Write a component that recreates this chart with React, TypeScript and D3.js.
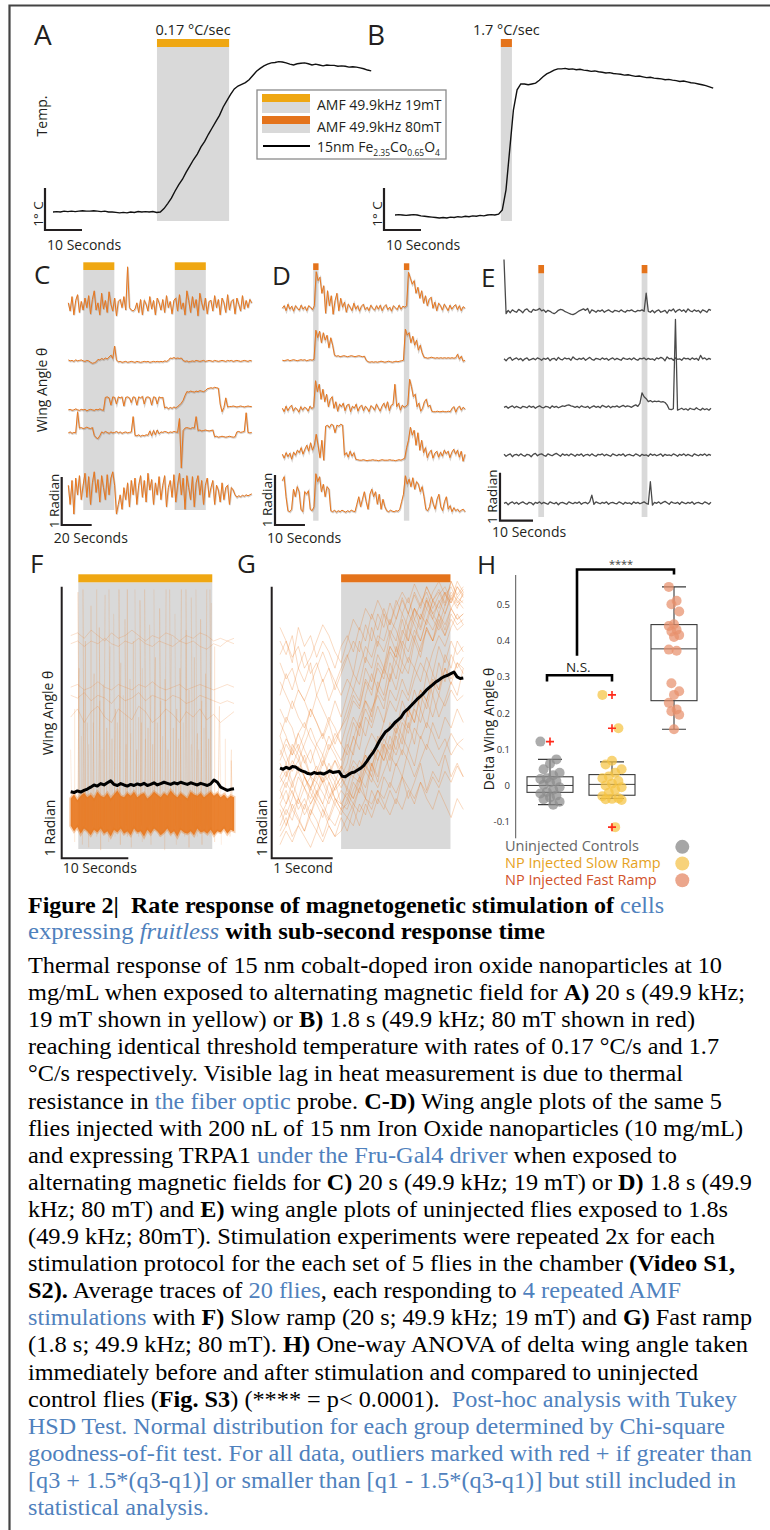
import React from "react";
import * as d3 from "d3";

// ---------- A / B : probe temperature, °C above start, one sample per second
const tempSlow = [0, 0.01, 0, 0.02, 0.01, 0.02, 0.01, 0.02, 0.03, 0.02, 0.02, 0.03, 0.02, 0.01, 0.02, 0, 0, -0.01, -0.02, -0.01, -0.02, 0, -0.01, 0.01, 0, 0.01, 0, 0.01, -0.01,
  0, 0.08, 0.2, 0.33, 0.5, 0.65, 0.78, 0.95, 1.1, 1.25, 1.38, 1.55, 1.68, 1.85, 2.0, 2.15, 2.3, 2.5, 2.65, 2.8, 2.93, 3.0, 3.04, 3.08, 3.15, 3.25, 3.35, 3.42, 3.48, 3.52,
  3.55, 3.56, 3.58, 3.57, 3.55, 3.52, 3.5, 3.53, 3.54, 3.55, 3.53, 3.5, 3.52, 3.5, 3.48, 3.5, 3.49, 3.49, 3.47, 3.48, 3.47, 3.45, 3.46, 3.45, 3.43, 3.41, 3.38, 3.36];
const tempFast = [0, 0.01, 0, -0.01, 0, 0.01, 0, -0.02, -0.03, -0.04, -0.05, -0.06, -0.07, -0.06, -0.07, -0.05, -0.06, -0.04, -0.05, -0.03, -0.04, -0.02, -0.03, -0.01, -0.02, 0, 0.01, 0, 0.02,
  0.12, 0.6, 1.55, 2.5, 2.98, 3.12, 3.12, 3.1, 3.12, 3.14, 3.21, 3.29, 3.36, 3.4, 3.45, 3.48, 3.48, 3.49, 3.47, 3.48, 3.46, 3.47, 3.45, 3.44, 3.42, 3.43, 3.41, 3.4, 3.38, 3.39,
  3.37, 3.36, 3.35, 3.33, 3.34, 3.32, 3.3, 3.31, 3.29, 3.27, 3.28, 3.26, 3.25, 3.24, 3.22, 3.23, 3.21, 3.2, 3.18, 3.19, 3.17, 3.15, 3.14, 3.12, 3.1, 3.08, 3.05, 3.02];

// ---------- C : slow ramp, 5 flies (radians around each fly's baseline)
const c1 = [0.05, -0.12, 0.18, -0.2, 0.1, 0.22, -0.15, 0.08, -0.1, 0.15, -0.05, 0.2, -0.18, 0.12, 0.3, -0.1, 0.05, -0.2, 0.25, -0.08, 0.1, -0.15, 0.28, 0.02, -0.12, 0.15, -0.22, 0.08, 0.12, -0.05, 0.18, -0.1, 0.8, -0.05, -0.1, -0.12, -0.08, 0.05, -0.15, 0.12, -0.2, 0.1, 0.02, -0.12, 0.18, -0.08, 0.1, -0.2, 0.15, 0.05, -0.1, 0.12, -0.15, 0.2, -0.05, 0.08, -0.18, 0.1, 0.15, -0.12, 0.22, -0.08, 0.05, -0.2, 0.3, 0.1, -0.15, 0.18, -0.05, 0.12, -0.22, 0.25, 0.05, -0.1, 0.15, -0.18, 0.08, 0.1, -0.12, 0.2, -0.05, 0.12, -0.2, 0.15, 0.05, -0.15, 0.22, -0.1, 0.08, 0.12, -0.18, 0.15, 0.02, -0.12, 0.2, -0.08, 0.1, -0.05, 0.12, 0.05];
const c2 = [0.02, 0, 0.01, -0.01, 0.02, 0, 0.01, 0.02, 0, -0.01, 0.01, 0, -0.03, -0.05, -0.04, -0.02, 0.03, 0.02, 0.05, 0.03, 0.06, 0.04, 0.08, 0.12, 0.05, 0.31, 0.02, -0.02, -0.01, -0.03, -0.02, -0.01, -0.03, -0.02, -0.01, -0.02, -0.03, -0.01, -0.02, -0.03, -0.02, -0.01, -0.02, -0.01, -0.03, -0.02, -0.01, -0.02, -0.01, -0.02, -0.01, -0.02, 0, -0.01, 0.01, 0.06, 0.05, 0.07, 0.05, 0.06, 0.05, 0.06, 0.01, -0.01, 0, -0.02, -0.01, 0, -0.01, 0.01, 0, -0.01, 0, 0.01, -0.01, 0, 0.01, 0, -0.01, 0.01, 0, -0.01, 0, 0.01, 0, -0.01, 0.01, 0, 0.01, -0.01, 0, 0.01, 0, -0.01, 0, 0.01, 0, -0.01, 0.01, 0];
const c3 = [0, 0.01, -0.01, 0, 0.02, 0, -0.01, 0.01, 0, 0.01, -0.02, 0, 0.01, 0, -0.01, 0.01, 0, 0.02, 0, -0.01,
  0.26, 0.27, 0.25, 0.1, 0.27, 0.26, 0.12, 0.27, 0.25, 0.27, 0.08, 0.26, 0.27, 0.25, 0.15, 0.27, 0.26, 0.1, 0.27, 0.25, 0.28, 0.12, 0.26, 0.27, 0.25, 0.1, 0.27, 0.26, 0.12, 0.27, 0.25, 0.26,
  0.04, 0.06, 0.02, 0.05, 0.03, 0.06, 0.04, 0.07, 0.1, 0.14, 0.2, 0.3, 0.38, 0.37, 0.39, 0.38, 0.37, 0.39, 0.38, 0.4, 0.39, 0.38, 0.4, 0.44, 0.45, 0.46, 0.45, 0.47, 0.46, 0.45,
  0.12, -0.04, 0.05, 0.25, 0.06, 0.07, 0.07, 0.08, 0.07, 0.06, 0.07, 0.08, 0.07, 0.06, 0.07, 0.08, 0.07, 0.07];
const c4 = [0, 0.02, -0.01, 0.01, 0, 0.44, 0.1, 0.11, 0.09, 0.1, 0.12, 0.1, 0.09, 0.11, -0.05, -0.1, -0.12, -0.06,
  0.02, 0, 0.03, 0.01, -0.01, 0.02, 0, 0.01, 0.03, 0, 0.02, -0.01, 0.01, 0.02, 0, 0.01, 0.02, 0.34,
  -0.05, -0.06, -0.04, -0.07, -0.05, -0.06, -0.04, -0.05, 0.04, -0.06, 0.05, -0.04, 0.06, -0.02,
  0.02, 0.01, 0.03, 0.02, 0, 0.02, 0.01, 0.03, 0.02, 0.01, 0.3, -0.73, 0.05, 0.1, 0.11, 0.1, 0.09, 0.11, 0.1, 0.34,
  0.05, 0.06, 0.04, 0.05, 0.06, 0.05, 0.04, 0.05, 0.06, -0.08, -0.07, -0.09, -0.08, -0.07, -0.08, -0.09, -0.08, -0.07, -0.08, -0.09, -0.08,
  0.02, 0.03, 0.01, 0.02, 0.03, 0.42, 0.01, 0, 0.01];
const c5 = [0.1, -0.3, 0.2, -0.5, 0.25, -0.1, 0.3, -0.2, 0.1, 0.35, -0.15, 0.28, -0.3, 0.15, 0.38, -0.05, 0.22, -0.25, 0.3, 0.05, -0.2, 0.32, -0.1, 0.25, 0.38, 0.1,
  -0.5, -0.3, -0.1, -0.4, 0.05, -0.2, 0.15, -0.35, 0.2, -0.1, 0.25, -0.3, 0.1, 0.3, -0.15, 0.2, -0.25, 0.35, 0, 0.22, -0.3, 0.15, -0.1, 0.28, -0.2, 0.1, 0.3, -0.35, 0.05, 0.2, -0.15, 0.32, -0.25, 0.1,
  0.35, -0.1, 0.25, -0.4, 0.3, 0.05, -0.2, 0.28, -0.35, 0.15, 0.3, -0.1, 0.2, -0.3, 0.1, 0.25, -0.15, 0.05, 0.2, -0.3, 0.1, 0, -0.25, 0.15, -0.2, 0.05, 0.1, -0.3, 0.05, 0,
  -0.1, -0.15, -0.12, -0.14, -0.11, -0.13, -0.1, -0.12, -0.1, -0.08];
const slowTraces = [c1, c2, c3, c4, c5];
const slowOffsets = [3.85, 2.69, 1.67, 1.19, 0];

// ---------- D : fast ramp, same 5 flies
const d1 = [0, 0.05, -0.05, 0.08, -0.02, 0.04, -0.06, 0.05, 0, -0.04, 0.06, -0.02, 0.03, -0.05, 0.05, 0.02, -0.03, 0.05,
  0.73, 0.55, 0.62, 0.3, 0.45, -0.1, 0.35, 0.05, 0.25, -0.12, 0.15, 0.3, -0.05, 0.2, 0.02, 0.12, -0.08, 0.08, 0.02, -0.05, 0.1, -0.02, 0.05, -0.06, 0.04, 0.08, -0.03, 0.02, -0.05, 0.06, 0, -0.04, 0.05, -0.02, 0.06, -0.05, 0.03, 0.07, -0.03, 0.02, -0.06, 0.05, 0.01, -0.03, 0.06, -0.02, 0.04, 0.02, 0.05,
  0.72, 0.6, 0.48, 0.55, 0.3, 0.42, 0.2, 0.35, 0.1, 0.25, 0.05, 0.18, 0.22, 0, 0.12, -0.05, 0.1, 0.05, -0.04, 0.08, 0.02, -0.05, 0.06, -0.02, 0.04, 0.07, -0.03, 0.05, -0.05, 0.03, 0];
const d2 = [0, -0.01, 0, 0.01, -0.01, 0, 0.01, 0, -0.01, 0, 0.01, 0, 0.01, -0.01, 0, 0.01, 0, 0.02,
  0.6, 0.45, 0.58, 0.35, 0.55, 0.4, 0.5, 0.25, 0.45, 0.3,
  0.1, 0.08, 0.09, 0.07, 0.08, 0.09, 0.08, 0.07, 0.08, 0.09, 0.08, 0.07, 0.08, 0.09, 0.08, 0.07, 0.08,
  0, -0.03, -0.04, -0.03, -0.04, -0.03, -0.04, -0.03, -0.02, -0.03, -0.04, -0.03, -0.02, -0.03, -0.04, -0.03, -0.02, -0.03, -0.02, -0.01, 0,
  0.62, 0.5, 0.55, 0.35, 0.48, 0.3, 0.4, 0.2, 0.3, 0.15,
  0.06, 0.05, 0.04, 0.05, 0.06, 0.05, 0.04, 0.05, 0.04, 0.05, 0.04, 0.05, 0.04, 0.05, 0.04, 0.05, 0.04, 0.05, 0.12, 0.02, 0.08, -0.02, 0];
const d3v = [0.02, -0.05, 0.06, -0.03, 0.04, 0.08, -0.04, 0.03, 0, -0.06, 0.05, -0.02, 0.04, 0.02, -0.04, 0.06, 0.01, 0.05,
  0.57, 0.35, 0.5, 0.2, 0.4, 0.15, 0.3, 0.05, 0.2, 0.25, 0.02, 0.15, -0.04, 0.1, 0.05, 0.12, -0.03, 0.08, 0.1, -0.05, 0.06, 0.02, 0.1, -0.04, 0.05, 0.08, -0.03, 0.06, 0.02, -0.05, 0.07, 0.04, -0.02, 0.1, 0.03, -0.04, 0.06, 0.12, 0.02, 0.15, -0.03, 0.08, 0.1,
  0.5, 0.05, 0.12, -0.02, 0.08, 0.04, 0.06, 0.1,
  0.6, 0.45, 0.25, 0.3, 0.05, 0.12, -0.04, 0.02, 0.15, 0.2, 0.05, 0.08, -0.04, -0.05, -0.05, -0.04, -0.05, -0.05, -0.04, -0.05, -0.05, -0.04, -0.05,
  0.02, 0.05, -0.06, 0.03, 0.06, -0.02, 0.04, 0];
const d4 = [0.02, -0.06, 0.05, -0.03, 0.04, -0.08, 0.06, 0, 0.1, 0.05, 0.15, 0.02, 0.12, 0.2, 0.08, 0.25, 0.1, 0.2,
  0.42, 0.2, -0.05, 0.3, -0.1, 0.58, 0.6, 0.55, 0.62, 0.6, 0.45, 0.6, 0.58, 0.62, 0.6,
  0, 0.05, -0.04, 0.08, -0.02, 0.05,
  -0.08, -0.09, -0.1, -0.1, -0.09, -0.1, -0.11, -0.1, -0.1, -0.09, -0.1, -0.1, -0.11, -0.1, -0.09, -0.1, -0.1, -0.1, -0.09, -0.1, -0.1, -0.11, -0.1, -0.09, -0.1, -0.08, -0.06,
  0.15, 0.3, 0.56, 0.4, 0.5, 0.2, 0.45, 0.1, 0.3, 0.05, 0.15, -0.05, 0.05, 0.1, -0.06, 0.04, 0.08, -0.04, 0.06, -0.02, 0.1, 0.03, 0.08, -0.05, 0.06, 0.12, 0.02, 0.1, -0.04, 0.08, -0.12, 0.02];
const d5 = [0.62, 0.7, 0.3, 0.02, 0, 0.05, 0.45, 0.3, 0.5, 0.4, 0.05, 0, 0.4, 0.35, 0.42, 0.05, 0.02, 0.1,
  0.76, 0.6, 0.7, 0.4, 0.55, 0.3, 0.5, 0.45,
  0.02, 0, 0.03, -0.01, 0.02, 0, 0.03, 0.01, -0.01, 0.02, 0, 0.03, 0.01, 0, 0.15, 0.3, 0.1, 0.25, 0.4, 0.2, 0.05, 0.35, 0.45, 0.3, 0.4, 0.15, 0.35, 0.05, 0.25, 0.1, 0.02, 0, 0.03, 0.01, 0, 0.02, 0.01, 0.05, 0.2, 0.35,
  0.72, 0.55, 0.65, 0.5, 0.68, 0.45, 0.6, 0.55, 0.4, 0.5, 0.3,
  0.05, 0.02, 0.1, 0.3, 0.15, 0.05, 0.25, 0.35, 0.1, 0.02, 0.2, 0.3, 0.05, 0.12, 0, 0.08, 0.02, 0.05, 0, 0.03, 0.05, 0];
const fastTraces = [d1, d2, d3v, d4, d5];
const fastOffsets = [4.07, 3.03, 2.05, 1.13, 0];

// ---------- E : uninjected controls, fast ramp
const e1 = [1.08, -0.05, 0.02, -0.03, 0.03, 0, -0.02, 0.04, 0.01, -0.03, 0.03, 0.05, 0, -0.02, 0.04, 0.02, 0.03, 0.06, 0.01, 0.03, -0.02, 0.02, 0, -0.03, -0.05, -0.02, 0.02, 0.04, 0.03, 0, -0.02, -0.04, -0.06, -0.07, -0.05, -0.02, 0.01, 0.03, 0.05, 0.02, 0.06, -0.04, 0.03, 0.01, -0.02, 0.02, 0, 0.03, -0.02, 0.01, 0.03, 0, -0.02, 0.02, 0.01, -0.01, 0.03, 0, -0.02, 0.02, 0.01, 0.03, 0, -0.01, 0.02, 0.01, 0.03, 0, 0.38, 0, -0.02, 0.02, -0.03, 0.01, 0.03, -0.02, 0, 0.02, -0.04, 0.03, 0.01, 0.05, -0.02, 0.02, 0.04, 0, 0.03, -0.02, 0.05, 0.01, -0.01, 0.03, 0, 0.02, -0.03, 0.03, 0.01, -0.02, 0.04, 0.02];
const e2 = [0.01, -0.03, 0.02, 0.04, -0.02, 0.01, 0.03, -0.01, 0.02, -0.03, 0.01, 0.03, -0.02, 0, 0.02, -0.01, 0.03, 0.01, -0.02, 0.02, 0, 0.03, -0.03, 0.01, 0.02, -0.02, 0.04, 0, -0.01, 0.03, 0.01, 0.02, -0.02, 0.05, 0.01, -0.01, 0.02, 0, 0.03, -0.02, 0.01, 0.04, 0, -0.02, 0.02, 0.01, -0.01, 0.03, 0, 0.02, -0.02, 0.01, 0.03, -0.01, 0.02, 0, -0.02, 0.03, 0.01, 0, 0.02, -0.01, 0.03, 0, -0.02, 0.02, 0.01, 0.03, -0.01, 0.02, 0, 0.01, -0.02, 0.03, 0.01, 0.04, 0.02, -0.03, 0.05, 0.01, 0.02, -0.02, 0.03, 0, 0.01, -0.02, 0.03, 0.01, 0.02, -0.01, 0.03, 0, 0.02, -0.02, 0.08, 0.01, 0.03, -0.01, 0.02, 0];
const e3 = [0, 0.02, -0.02, 0.01, 0.03, -0.01, 0.02, 0, -0.02, 0.02, 0.01, -0.01, 0.03, 0, 0.02, -0.02, 0.01, 0.03, 0, -0.01, 0.02, 0.01, -0.02, 0.03, 0, 0.02, -0.01, 0.01, 0.03, 0.02, 0.04, 0.05, 0.03, 0.02, 0, 0.02, -0.01, 0.03, 0.01, 0, 0.02, -0.02, 0.01, 0.03, 0, 0.02, -0.01, 0.04, 0.02, 0, 0.03, -0.01, 0.02, 0.01, 0.03, 0, 0.02, 0.04, 0.01, 0.03, 0.02, 0, 0.03, 0.05, 0.02, 0.08, 0.3, 0.22, 0.18, 0.12, 0.14, 0.11, 0.13, 0.12, 0.13, 0.11, 0.12, 0.1, 0.05, -0.04, -0.05, -0.03, 1.83, -0.06, -0.04, -0.02, -0.05, -0.03, -0.06, -0.02, -0.04, -0.05, -0.01, -0.04, -0.06, -0.02, -0.05, -0.03, -0.06, -0.02];
const e4 = [0.02, -0.02, 0.01, 0.03, -0.03, 0.01, 0.02, -0.01, 0.03, 0, -0.02, 0.02, 0.01, -0.03, 0.02, 0.04, -0.01, 0.02, 0.03, 0, -0.02, 0.03, 0.01, -0.01, 0.02, 0.04, 0.01, -0.02, 0.03, 0, 0.02, -0.01, 0.03, 0.01, -0.02, 0.02, 0, 0.03, -0.02, 0.01, 0.02, -0.01, 0.03, 0, -0.02, 0.02, 0.01, 0.03, -0.01, 0.02, 0, -0.02, 0.03, 0.01, -0.01, 0.02, 0, 0.03, -0.02, 0.01, 0.02, 0, -0.01, 0.03, 0.01, -0.02, 0.02, 0, 0.01, -0.02, 0.03, 0, 0.02, -0.01, 0.01, 0.03, -0.02, 0.02, 0, 0.01, -0.01, 0.03, 0.01, -0.02, 0.02, 0, 0.03, -0.01, 0.02, 0, -0.02, 0.03, 0.01, -0.01, 0.02, 0, 0.03, -0.01, 0.02, 0];
const e5 = [0, 0.02, -0.03, 0.01, 0.03, -0.01, 0.02, -0.02, 0.01, 0.03, 0, -0.02, 0.02, 0.01, -0.03, 0.02, 0, 0.03, -0.01, 0.02, 0, -0.02, 0.03, 0.01, -0.01, 0.02, -0.03, 0.01, 0.02, 0, -0.02, 0.03, 0.01, -0.01, 0.02, 0, 0.03, -0.02, 0.01, 0.02, -0.01, 0.03, 0.17, -0.02, 0.03, 0.01, -0.01, 0.02, 0, 0.03, -0.02, 0.01, 0.02, 0, -0.01, 0.03, 0.01, -0.02, 0.02, 0, 0.01, -0.02, 0.03, 0, 0.02, -0.01, 0.01, 0.03, 0, -0.02, 0.45, -0.04, 0.02, 0, 0.03, -0.01, 0.02, 0.04, 0.01, -0.02, 0.03, 0.01, 0, 0.02, -0.02, 0.03, 0.01, -0.01, 0.02, 0, 0.03, -0.02, 0.01, 0.02, 0, -0.01, 0.03, 0.01, -0.02, 0.02];
const ctrlTraces = [e1, e2, e3, e4, e5];
const ctrlOffsets = [4, 3, 2, 1, 0];

// ---------- F : slow ramp averages (radians)
const fMean = [0.245, 0.242, 0.248, 0.244, 0.25, 0.255, 0.262, 0.27, 0.266, 0.275, 0.27, 0.278, 0.285, 0.272, 0.268, 0.275, 0.27, 0.266, 0.272, 0.268, 0.274, 0.27, 0.276, 0.268, 0.272, 0.278, 0.27, 0.275, 0.28, 0.276, 0.272, 0.278, 0.274, 0.28, 0.276, 0.272, 0.278, 0.274, 0.27, 0.276, 0.272, 0.268, 0.274, 0.288, 0.28, 0.262, 0.256, 0.25, 0.254, 0.256];
const fBandHi = [0.22, 0.235, 0.215, 0.23, 0.24, 0.225, 0.235, 0.22, 0.245, 0.23, 0.225, 0.24, 0.22, 0.235, 0.25, 0.23, 0.225, 0.24, 0.23, 0.245, 0.225, 0.235, 0.24, 0.22, 0.23, 0.245, 0.235, 0.225, 0.24, 0.23, 0.25, 0.235, 0.225, 0.24, 0.23, 0.22, 0.245, 0.235, 0.23, 0.24, 0.225, 0.235, 0.245, 0.23, 0.24, 0.225, 0.235, 0.22, 0.23, 0.225];
const fBandLo = [0.12, 0.1, 0.115, 0.09, 0.11, 0.1, 0.085, 0.105, 0.095, 0.11, 0.09, 0.1, 0.08, 0.105, 0.095, 0.11, 0.09, 0.1, 0.085, 0.11, 0.095, 0.1, 0.08, 0.105, 0.09, 0.11, 0.1, 0.085, 0.095, 0.11, 0.09, 0.1, 0.08, 0.105, 0.095, 0.09, 0.1, 0.085, 0.11, 0.095, 0.1, 0.09, 0.105, 0.085, 0.1, 0.095, 0.11, 0.09, 0.105, 0.1];
const fHigh = [
  [0.82, 0.83, 0.81, 0.84, 0.82, 0.8, 0.83, 0.81, 0.82, 0.84, 0.82, 0.8, 0.82, 0.81, 0.83, 0.82, 0.8, 0.82, 0.81, 0.83, 0.82, 0.8, 0.81, 0.8, 0.81],
  [0.79, 0.8, 0.78, 0.8, 0.79, 0.81, 0.79, 0.78, 0.8, 0.79, 0.81, 0.79, 0.78, 0.8, 0.79, 0.78, 0.8, 0.79, 0.8, 0.78, 0.77, 0.79, 0.78, 0.8, 0.79],
  [0.63, 0.64, 0.62, 0.63, 0.65, 0.63, 0.62, 0.64, 0.63, 0.62, 0.64, 0.63, 0.65, 0.63, 0.62, 0.63, 0.64, 0.62, 0.63, 0.64, 0.63, 0.62, 0.63, 0.64, 0.63],
  [0.6, 0.59, 0.61, 0.58, 0.6, 0.59, 0.57, 0.6, 0.58, 0.59, 0.61, 0.58, 0.6, 0.59, 0.58, 0.6, 0.59, 0.57, 0.58, 0.6, 0.59, 0.58, 0.57, 0.58, 0.57],
  [0.52, 0.55, 0.5, 0.54, 0.56, 0.52, 0.5, 0.55, 0.53, 0.51, 0.56, 0.54, 0.5, 0.52, 0.55, 0.53, 0.5, 0.54, 0.52, 0.55, 0.51, 0.53, 0.5, 0.52, 0.54],
];
// [time s, low, high] of the wing flicks in F
const fSpikes = [[0.2, 0.14, 0.4], [0.6, 0.06, 0.55], [1.05, 0.1, 0.7], [1.3, 0.12, 0.98], [1.6, 0.1, 0.45], [1.75, 0.05, 0.62], [2.05, 0.1, 0.99], [2.2, 0.12, 0.8], [2.5, 0.1, 0.42], [2.7, 0.04, 0.5], [3.05, 0.1, 0.93], [3.3, 0.12, 0.68], [3.6, 0.1, 0.5], [3.9, 0.08, 0.99], [4.15, 0.1, 0.58], [4.5, 0.03, 0.85], [4.7, 0.1, 0.4], [4.95, 0.12, 0.97], [5.1, 0.1, 0.64], [5.4, 0.1, 0.48], [5.7, 0.06, 0.78], [5.95, 0.12, 0.99], [6.2, 0.1, 0.44], [6.5, 0.1, 0.55], [6.65, 0.08, 0.9], [7.0, 0.1, 0.5], [7.3, 0.12, 0.72], [7.45, 0.05, 0.99], [7.9, 0.1, 0.6], [8.1, 0.1, 0.42], [8.35, 0.12, 0.88], [8.5, 0.08, 0.99], [8.8, 0.1, 0.46], [9.1, 0.04, 0.66], [9.4, 0.12, 0.8], [9.7, 0.1, 0.4], [9.85, 0.1, 0.99], [10.2, 0.08, 0.52], [10.4, 0.1, 0.5], [10.6, 0.12, 0.95], [10.75, 0.06, 0.7], [11.0, 0.1, 0.44], [11.3, 0.1, 0.99], [11.6, 0.1, 0.48], [11.8, 0.12, 0.6], [12.05, 0.05, 0.86], [12.3, 0.1, 0.42], [12.5, 0.1, 0.74], [12.7, 0.12, 0.99], [13.0, 0.1, 0.5], [13.3, 0.08, 0.58], [13.55, 0.1, 0.92], [13.8, 0.1, 0.45], [14.1, 0.03, 0.99], [14.35, 0.12, 0.66], [14.6, 0.1, 0.4], [14.9, 0.1, 0.82], [15.05, 0.08, 0.99], [15.4, 0.1, 0.48], [15.7, 0.12, 0.55], [15.85, 0.05, 0.9], [16.2, 0.1, 0.44], [16.4, 0.1, 0.99], [16.6, 0.12, 0.7], [16.9, 0.1, 0.5], [17.1, 0.08, 0.84], [17.5, 0.1, 0.99], [17.75, 0.04, 0.62], [17.9, 0.1, 0.42], [18.3, 0.12, 0.96], [18.55, 0.1, 0.74], [18.8, 0.1, 0.46], [19.0, 0.08, 0.99], [19.2, 0.1, 0.4], [19.45, 0.12, 0.58], [19.7, 0.05, 0.88], [20.0, 0.1, 0.48], [20.2, 0.1, 0.99], [20.45, 0.12, 0.68], [20.7, 0.1, 0.44], [20.9, 0.08, 0.94], [21.1, 0.1, 0.99], [21.6, 0.06, 0.78], [22.1, 0.1, 0.56], [22.6, 0.05, 0.5], [23.2, 0.1, 0.44], [23.9, 0.08, 0.4], [24.3, 0.1, 0.36]];

// ---------- G : fast ramp averages (radians, 0.1 s per sample for flies)
const gMean = [0.332, 0.328, 0.335, 0.33, 0.338, 0.336, 0.328, 0.322, 0.318, 0.312, 0.31, 0.316, 0.312, 0.314, 0.31, 0.315, 0.322, 0.316, 0.318, 0.32, 0.302, 0.3, 0.308, 0.315, 0.318, 0.325, 0.332, 0.342, 0.358, 0.375, 0.39, 0.41, 0.432, 0.45, 0.466, 0.474, 0.486, 0.5, 0.51, 0.52, 0.538, 0.548, 0.56, 0.572, 0.584, 0.594, 0.605, 0.618, 0.628, 0.638, 0.648, 0.655, 0.664, 0.67, 0.674, 0.68, 0.686, 0.668, 0.662, 0.664];
const gFlies = [
  [0.2, 0.25, 0.18, 0.22, 0.3, 0.24, 0.2, 0.15, 0.22, 0.28, 0.2, 0.18, 0.25, 0.3, 0.22, 0.35, 0.28, 0.4, 0.32, 0.45, 0.38, 0.5, 0.42, 0.55, 0.48, 0.6, 0.52, 0.58, 0.65, 0.6, 0.7],
  [0.35, 0.3, 0.42, 0.38, 0.3, 0.25, 0.32, 0.28, 0.35, 0.3, 0.26, 0.3, 0.4, 0.48, 0.55, 0.5, 0.62, 0.7, 0.65, 0.78, 0.72, 0.85, 0.8, 0.9, 0.86, 0.95, 0.92, 0.98, 0.94, 1.0, 0.96],
  [0.6, 0.68, 0.62, 0.7, 0.65, 0.72, 0.6, 0.66, 0.58, 0.64, 0.7, 0.75, 0.68, 0.8, 0.72, 0.85, 0.78, 0.9, 0.82, 0.88, 0.95, 0.9, 0.97, 0.92, 1.0, 0.95, 0.98, 0.93, 1.02, 0.96, 0.99],
  [0.1, 0.15, 0.08, 0.12, 0.2, 0.14, 0.1, 0.18, 0.12, 0.08, 0.15, 0.1, 0.18, 0.12, 0.2, 0.15, 0.22, 0.18, 0.25, 0.2, 0.3, 0.22, 0.28, 0.35, 0.25, 0.32, 0.28, 0.38, 0.3, 0.35, 0.3],
  [0.45, 0.52, 0.48, 0.4, 0.46, 0.55, 0.5, 0.44, 0.5, 0.42, 0.48, 0.55, 0.62, 0.58, 0.7, 0.65, 0.75, 0.7, 0.82, 0.76, 0.88, 0.8, 0.92, 0.85, 0.95, 0.88, 0.84, 0.9, 0.96, 0.92, 0.98],
  [0.25, 0.2, 0.28, 0.22, 0.18, 0.26, 0.22, 0.3, 0.24, 0.2, 0.25, 0.22, 0.3, 0.28, 0.38, 0.32, 0.45, 0.4, 0.5, 0.46, 0.58, 0.52, 0.62, 0.55, 0.68, 0.6, 0.72, 0.65, 0.75, 0.7, 0.74],
  [0.75, 0.8, 0.72, 0.85, 0.78, 0.82, 0.74, 0.8, 0.76, 0.7, 0.78, 0.82, 0.76, 0.85, 0.8, 0.9, 0.84, 0.92, 0.86, 0.95, 0.9, 0.96, 0.88, 0.94, 0.98, 0.92, 0.97, 1.0, 0.95, 1.02, 0.98],
  [0.15, 0.2, 0.25, 0.18, 0.22, 0.16, 0.24, 0.2, 0.15, 0.22, 0.18, 0.15, 0.2, 0.17, 0.22, 0.18, 0.25, 0.2, 0.16, 0.22, 0.18, 0.25, 0.2, 0.28, 0.22, 0.18, 0.25, 0.2, 0.15, 0.22, 0.18],
  [0.5, 0.45, 0.38, 0.42, 0.35, 0.4, 0.32, 0.38, 0.3, 0.36, 0.32, 0.4, 0.5, 0.45, 0.58, 0.52, 0.65, 0.6, 0.72, 0.66, 0.78, 0.72, 0.82, 0.76, 0.85, 0.8, 0.88, 0.82, 0.9, 0.86, 0.88],
  [0.3, 0.35, 0.28, 0.32, 0.38, 0.3, 0.34, 0.28, 0.32, 0.36, 0.3, 0.35, 0.45, 0.4, 0.52, 0.48, 0.56, 0.5, 0.62, 0.58, 0.66, 0.6, 0.7, 0.65, 0.74, 0.68, 0.78, 0.72, 0.8, 0.75, 0.78],
  [0.8, 0.75, 0.82, 0.7, 0.76, 0.68, 0.72, 0.65, 0.7, 0.62, 0.68, 0.74, 0.8, 0.76, 0.86, 0.8, 0.9, 0.85, 0.94, 0.88, 0.96, 0.9, 0.98, 0.93, 1.0, 0.95, 0.99, 0.94, 1.02, 0.97, 1.0],
  [0.18, 0.12, 0.2, 0.15, 0.1, 0.18, 0.14, 0.08, 0.15, 0.12, 0.18, 0.2, 0.28, 0.24, 0.35, 0.3, 0.4, 0.36, 0.45, 0.4, 0.5, 0.46, 0.55, 0.5, 0.58, 0.52, 0.6, 0.56, 0.62, 0.58, 0.6],
  [0.4, 0.35, 0.4, 0.46, 0.4, 0.35, 0.42, 0.38, 0.45, 0.4, 0.36, 0.42, 0.38, 0.5, 0.45, 0.55, 0.6, 0.55, 0.68, 0.62, 0.72, 0.68, 0.8, 0.74, 0.85, 0.8, 0.9, 0.84, 0.92, 0.88, 0.9],
  [0.22, 0.28, 0.24, 0.2, 0.26, 0.3, 0.24, 0.28, 0.22, 0.26, 0.3, 0.25, 0.22, 0.3, 0.26, 0.35, 0.3, 0.42, 0.36, 0.48, 0.42, 0.55, 0.5, 0.6, 0.55, 0.65, 0.6, 0.7, 0.64, 0.72, 0.68],
  [0.65, 0.6, 0.55, 0.62, 0.58, 0.52, 0.6, 0.55, 0.5, 0.58, 0.52, 0.6, 0.68, 0.64, 0.74, 0.7, 0.8, 0.76, 0.84, 0.8, 0.9, 0.85, 0.92, 0.88, 0.96, 0.9, 0.94, 0.98, 0.92, 0.96, 0.94],
  [0.05, 0.1, 0.06, 0.12, 0.08, 0.04, 0.1, 0.06, 0.12, 0.08, 0.1, 0.15, 0.12, 0.2, 0.16, 0.25, 0.2, 0.3, 0.26, 0.35, 0.3, 0.4, 0.34, 0.45, 0.4, 0.5, 0.44, 0.52, 0.48, 0.55, 0.5],
  [0.28, 0.32, 0.26, 0.34, 0.3, 0.26, 0.32, 0.28, 0.3, 0.25, 0.28, 0.32, 0.3, 0.36, 0.32, 0.4, 0.36, 0.44, 0.4, 0.5, 0.45, 0.55, 0.5, 0.62, 0.58, 0.68, 0.62, 0.75, 0.7, 0.8, 0.76],
  [0.55, 0.5, 0.58, 0.52, 0.48, 0.55, 0.5, 0.45, 0.52, 0.48, 0.42, 0.5, 0.58, 0.55, 0.65, 0.6, 0.72, 0.68, 0.78, 0.74, 0.84, 0.8, 0.88, 0.84, 0.92, 0.88, 0.95, 0.9, 0.97, 0.93, 0.95],
  [0.12, 0.18, 0.14, 0.22, 0.16, 0.2, 0.25, 0.2, 0.28, 0.22, 0.2, 0.24, 0.2, 0.26, 0.22, 0.2, 0.25, 0.22, 0.28, 0.24, 0.3, 0.26, 0.22, 0.28, 0.24, 0.3, 0.26, 0.32, 0.28, 0.34, 0.3],
  [0.38, 0.44, 0.4, 0.36, 0.42, 0.48, 0.42, 0.46, 0.4, 0.44, 0.48, 0.52, 0.6, 0.56, 0.66, 0.62, 0.7, 0.66, 0.76, 0.72, 0.8, 0.76, 0.84, 0.8, 0.88, 0.84, 0.9, 0.86, 0.92, 0.88, 0.9],
  [0.3, 0.26, 0.34, 0.4, 0.36, 0.3, 0.28, 0.35, 0.42, 0.38, 0.33, 0.45, 0.52, 0.48, 0.6, 0.68, 0.62, 0.7, 0.78, 0.74, 0.82, 0.9, 0.86, 0.8, 0.88, 0.95, 0.9, 0.97, 1.0, 0.94, 0.97],
  [0.72, 0.66, 0.7, 0.62, 0.58, 0.64, 0.7, 0.76, 0.7, 0.65, 0.6, 0.66, 0.62, 0.7, 0.78, 0.74, 0.82, 0.8, 0.88, 0.84, 0.78, 0.86, 0.92, 0.88, 0.95, 0.9, 0.86, 0.93, 0.98, 0.95, 0.92],
  [0.2, 0.16, 0.22, 0.3, 0.26, 0.2, 0.24, 0.32, 0.28, 0.22, 0.18, 0.26, 0.34, 0.3, 0.4, 0.46, 0.42, 0.5, 0.58, 0.54, 0.62, 0.58, 0.66, 0.72, 0.68, 0.76, 0.82, 0.78, 0.85, 0.9, 0.86],
  [0.45, 0.38, 0.32, 0.36, 0.3, 0.26, 0.3, 0.36, 0.32, 0.28, 0.34, 0.3, 0.36, 0.33, 0.38, 0.34, 0.4, 0.36, 0.42, 0.38, 0.45, 0.4, 0.48, 0.44, 0.5, 0.46, 0.4, 0.44, 0.38, 0.42, 0.4],
  [0.85, 0.8, 0.74, 0.78, 0.7, 0.74, 0.8, 0.86, 0.82, 0.76, 0.72, 0.8, 0.88, 0.84, 0.92, 0.88, 0.95, 0.9, 0.86, 0.93, 0.98, 0.94, 1.01, 0.96, 0.92, 0.98, 1.02, 0.97, 0.94, 1.0, 0.97],
  [0.08, 0.12, 0.18, 0.14, 0.1, 0.16, 0.22, 0.18, 0.14, 0.2, 0.16, 0.22, 0.18, 0.26, 0.32, 0.28, 0.36, 0.42, 0.38, 0.46, 0.52, 0.48, 0.56, 0.62, 0.58, 0.66, 0.62, 0.7, 0.66, 0.72, 0.7],
  [0.36, 0.42, 0.38, 0.46, 0.5, 0.44, 0.4, 0.34, 0.4, 0.46, 0.42, 0.38, 0.44, 0.52, 0.58, 0.54, 0.62, 0.58, 0.66, 0.72, 0.68, 0.74, 0.7, 0.78, 0.84, 0.8, 0.86, 0.82, 0.88, 0.84, 0.86],
  [0.25, 0.3, 0.36, 0.32, 0.26, 0.22, 0.28, 0.24, 0.2, 0.26, 0.3, 0.26, 0.22, 0.28, 0.34, 0.3, 0.26, 0.32, 0.38, 0.34, 0.4, 0.36, 0.3, 0.36, 0.42, 0.38, 0.34, 0.4, 0.46, 0.42, 0.44],
];

// ---------- H : delta wing angle
const hGroups = ["Uninjected Controls", "NP Injected Slow Ramp", "NP Injected Fast Ramp"];
const hQ1 = [-0.019, -0.027, 0.234];
const hMedian = [0, 0.003, 0.377];
const hQ3 = [0.024, 0.03, 0.444];
const hLow = [-0.053, -0.036, 0.155];
const hHigh = [0.072, 0.065, 0.548];
const hPoints = [
  [0.121, 0.072, 0.06, 0.045, 0.035, 0.028, 0.02, 0.018, 0.012, 0.008, 0.002, -0.005, -0.012, -0.018, -0.022, -0.028, -0.033, -0.038, -0.045, -0.053],
  [0.25, 0.158, 0.068, 0.058, 0.045, 0.035, 0.025, 0.02, 0.012, 0.005, 0, -0.005, -0.012, -0.02, -0.03, -0.035, -0.037, -0.038, -0.04, -0.115],
  [0.548, 0.51, 0.5, 0.48, 0.445, 0.44, 0.43, 0.425, 0.415, 0.41, 0.375, 0.372, 0.282, 0.26, 0.25, 0.228, 0.21, 0.205, 0.195, 0.155],
];
const hOutliers = [[0.121], [0.25, 0.158, -0.115], []];
const hTicks = [-0.1, 0, 0.1, 0.2, 0.3, 0.4, 0.5];

// ---------- caption
type Seg = [string, string?];
const captionTitle: Seg[][] = [
  [["Figure 2|  Rate response of magnetogenetic stimulation of ", "b"], ["cells", "u"]],
  [["expressing ", "u"], ["fruitless", "ui"], [" with sub-second response time", "b"]],
];
const captionBody: Seg[][] = [
  [["Thermal response of 15 nm cobalt-doped iron oxide nanoparticles at 10"]],
  [["mg/mL when exposed to alternating magnetic field for "], ["A)", "b"], [" 20 s (49.9 kHz;"]],
  [["19 mT shown in yellow) or "], ["B)", "b"], [" 1.8 s (49.9 kHz; 80 mT shown in red)"]],
  [["reaching identical threshold temperature with rates of 0.17 °C/s and 1.7"]],
  [["°C/s respectively. Visible lag in heat measurement is due to thermal"]],
  [["resistance in "], ["the fiber optic", "u"], [" probe. "], ["C-D)", "b"], [" Wing angle plots of the same 5"]],
  [["flies injected with 200 nL of 15 nm Iron Oxide nanoparticles (10 mg/mL)"]],
  [["and expressing TRPA1 "], ["under the Fru-Gal4 driver", "u"], [" when exposed to"]],
  [["alternating magnetic fields for "], ["C)", "b"], [" 20 s (49.9 kHz; 19 mT) or "], ["D)", "b"], [" 1.8 s (49.9"]],
  [["kHz; 80 mT) and "], ["E)", "b"], [" wing angle plots of uninjected flies exposed to 1.8s"]],
  [["(49.9 kHz; 80mT). Stimulation experiments were repeated 2x for each"]],
  [["stimulation protocol for the each set of 5 flies in the chamber "], ["(Video S1,", "b"]],
  [["S2).", "b"], [" Average traces of "], ["20 flies", "u"], [", each responding to "], ["4 repeated AMF", "u"]],
  [["stimulations", "u"], [" with "], ["F)", "b"], [" Slow ramp (20 s; 49.9 kHz; 19 mT) and "], ["G)", "b"], [" Fast ramp"]],
  [["(1.8 s; 49.9 kHz; 80 mT). "], ["H)", "b"], [" One-way ANOVA of delta wing angle taken"]],
  [["immediately before and after stimulation and compared to uninjected"]],
  [["control flies ("], ["Fig. S3", "b"], [") (**** = p< 0.0001).  "], ["Post-hoc analysis with Tukey", "u"]],
  [["HSD Test. Normal distribution for each group determined by Chi-square", "u"]],
  [["goodness-of-fit test. For all data, outliers marked with red + if greater than", "u"]],
  [["[q3 + 1.5*(q3-q1)] or smaller than [q1 - 1.5*(q3-q1)] but still included in", "u"]],
  [["statistical analysis.", "u"]],
];
const titleWidths = [636, 517];
const bodyWidths = [694, 717, 667, 691, 655, 694, 715, 649, 724, 700, 687, 707, 653, 724, 720, 670, 709, 697, 724, 708, 181];

const FONT = "'Open Sans', 'Noto Sans', sans-serif";
const SERIF = "'Liberation Serif', 'Times New Roman', serif";
const INK = "#231f20";
const YELLOW = "#efa712";
const ORANGE = "#e4731b";
const TRACE = "#e8771e";
const SHADE = "#d9d9d9";
const BLUE = "#4f81bd";

const tracePath = (vals: number[], dur: number, x: any, y: any, off = 0) =>
  d3.line<number>().x((_, i) => x((i * dur) / (vals.length - 1))).y((v) => y(v + off))(vals) ?? "";

const Label = ({ x, y, t, size = 26 }: any) => (
  <text x={x} y={y} fontSize={size} fontFamily={FONT} fill={INK}>{t}</text>
);
const VText = ({ x, y, t, size = 13 }: any) => (
  <text transform={`translate(${x},${y}) rotate(-90)`} textAnchor="middle" fontSize={size} fontFamily={FONT} fill={INK}>{t}</text>
);
const Txt = ({ x, y, t, size = 13, anchor = "start" }: any) => (
  <text x={x} y={y} fontSize={size} fontFamily={FONT} fill={INK} textAnchor={anchor}>{t}</text>
);

function TempPanel({ values, x0, yBase, stimStart, stimDur, barColor, rate, sbx }: any) {
  const x = d3.scaleLinear().domain([0, values.length - 1]).range([x0, x0 + 3.7 * (values.length - 1)]);
  const y = d3.scaleLinear().domain([0, 1]).range([yBase, yBase - 42]);
  const line = d3.line<number>().x((_, i) => x(i)).y((v) => y(v));
  const s0 = x(stimStart), s1 = x(stimStart + stimDur);
  const sbLen = x(10) - x(0);
  const sbH = y(0) - y(1);
  return (
    <g>
      <rect x={s0} y={47} width={s1 - s0} height={174} fill={SHADE} />
      <rect x={s0} y={39} width={s1 - s0} height={8} fill={barColor} />
      <Txt x={(s0 + s1) / 2} y={35} t={rate} anchor="middle" size={14.5} />
      <path d={line(values) ?? ""} fill="none" stroke="#111" strokeWidth={1.4} />
      <path d={`M${sbx},${230 - sbH}V230H${sbx + sbLen}`} fill="none" stroke={INK} strokeWidth={2.2} />
      <VText x={sbx - 2} y={214} t="1° C" size={13.5} />
      <Txt x={sbx + 2} y={250} t="10 Seconds" size={14} />
    </g>
  );
}

function StackPanel(p: any) {
  const x = d3.scaleLinear().domain([0, p.dur]).range([p.x0, p.x1]);
  const y = d3.scaleLinear().domain([0, 1]).range([p.yBase, p.yBase - p.pxRad]);
  const sw = x(p.stimDur) - x(0);
  return (
    <g>
      {p.stims.map((s: number, i: number) => (
        <g key={i}>
          <rect x={x(s)} y={p.barBottom} width={sw} height={p.grayBottom - p.barBottom} fill={SHADE} />
          <rect x={x(s)} y={p.barTop} width={sw} height={p.barBottom - p.barTop} fill={p.barColor} />
        </g>
      ))}
      {p.traces.map((t: number[], i: number) => (
        <g key={i}>
          {p.shadow && <path d={tracePath(t, p.dur, x, y, p.offsets[i])} fill="none" stroke="#8a7566" strokeOpacity={0.35} strokeWidth={1.8} transform="translate(0.4,0.7)" />}
          <path d={tracePath(t, p.dur, x, y, p.offsets[i])} fill="none" stroke={p.color} strokeWidth={p.width ?? 1} strokeLinejoin="round" />
        </g>
      ))}
      <path d={`M${p.sbx},${p.sby - (y(0) - y(1))}V${p.sby}H${p.sbx + x(p.sbSec) - x(0)}`} fill="none" stroke={INK} strokeWidth={2.2} />
      <VText x={p.sbx - 3} y={p.sby - (y(0) - y(1)) / 2} t="1 Radian" size={13.5} />
      <Txt x={p.sbx - 8} y={p.secY} t={p.secLabel} size={14} />
    </g>
  );
}

function FPanel() {
  const dur = 24.5;
  const x = d3.scaleLinear().domain([0, dur]).range([70.7, 234]);
  const y = d3.scaleLinear().domain([0, 1]).range([858.3, 586.7]);
  const band = d3.area<number>()
    .x((_, i) => x((i * dur) / (fBandHi.length - 1)))
    .y0((_, i) => y(fBandLo[i]))
    .y1((v) => y(v));
  const s0 = x(1.14), s1 = x(21.24);
  return (
    <g>
      <rect x={s0} y={582.3} width={s1 - s0} height={266.7} fill={SHADE} />
      <rect x={s0} y={574.3} width={s1 - s0} height={8} fill={YELLOW} />
      {fHigh.map((t, i) => (
        <path key={i} d={tracePath(t, dur, x, y)} fill="none" stroke={TRACE} strokeOpacity={0.22} strokeWidth={1} />
      ))}
      {fSpikes.map(([t, lo, hi], i) => (
        <line key={i} x1={x(t)} x2={x(t) + ((i % 3) - 1) * 1.4} y1={y(lo)} y2={y(hi)} stroke={TRACE} strokeOpacity={0.16 + (i % 4) * 0.05} strokeWidth={0.85} />
      ))}
      <path d={band(fBandHi) ?? ""} fill={TRACE} fillOpacity={0.92} stroke={TRACE} strokeOpacity={0.35} strokeWidth={3} />
      <path d={tracePath(fMean, dur, x, y)} fill="none" stroke="#000" strokeWidth={3} strokeLinejoin="round" />
      <path d="M61.7,586.7V858.3H128.3" fill="none" stroke={INK} strokeWidth={2} />
      <VText x={53} y={713} t="Wing Angle θ" size={14} />
      <VText x={55} y={828} t="1 Radian" size={14} />
      <Txt x={62.7} y={872.5} t="10 Seconds" size={14} />
    </g>
  );
}

function GPanel() {
  const x = d3.scaleLinear().domain([0, 3]).range([280, 463.3]);
  const y = d3.scaleLinear().domain([0, 1]).range([858.3, 586.7]);
  const s0 = x(1), s1 = x(2.79);
  return (
    <g>
      <rect x={s0} y={582.3} width={s1 - s0} height={266.7} fill={SHADE} />
      <rect x={s0} y={574.3} width={s1 - s0} height={8} fill={ORANGE} />
      {gFlies.map((t, i) => (
        <path key={i} d={tracePath(t, 3, x, y)} fill="none" stroke={TRACE} strokeOpacity={0.32} strokeWidth={0.85} />
      ))}
      <path d={tracePath(gMean, 3, x, y)} fill="none" stroke="#000" strokeWidth={3} strokeLinejoin="round" />
      <path d="M271.7,586.7V858.3H332.7" fill="none" stroke={INK} strokeWidth={2} />
      <VText x={267} y={828} t="1 Radian" size={14} />
      <Txt x={273.3} y={872.5} t="1 Second" size={14} />
    </g>
  );
}

function HPanel() {
  const y = d3.scaleLinear().domain([-0.1, 0.5]).range([821.7, 604.3]);
  const xc = d3.scaleLinear().domain([0, 2]).range([550, 674]);
  const fills = ["#8c8c8c", "#f5c443", "#e8906c"];
  const legendFills = ["#a6a6a6", "#f7d27a", "#eba68c"];
  const legendInk = ["#666666", "#e6a21e", "#d2522b"];
  const bw = 46;
  return (
    <g fontFamily={FONT}>
      <line x1={515.7} x2={515.7} y1={575} y2={838.3} stroke="#555" strokeWidth={1} />
      {hTicks.map((t) => (
        <text key={t} x={510} y={y(t) + 3.5} fontSize={9.5} textAnchor="end" fill="#333">{String(+t.toFixed(1))}</text>
      ))}
      <VText x={494} y={729} t="Delta Wing Angle θ" size={14} />
      {hGroups.map((g, i) => {
        const c = xc(i);
        return (
          <g key={g}>
            <rect x={c - bw / 2} y={y(hQ3[i])} width={bw} height={y(hQ1[i]) - y(hQ3[i])} fill="none" stroke="#3a3a3a" strokeWidth={1.1} />
            <line x1={c - bw / 2} x2={c + bw / 2} y1={y(hMedian[i])} y2={y(hMedian[i])} stroke="#3a3a3a" strokeWidth={1} />
            <path d={`M${c},${y(hQ3[i])}V${y(hHigh[i])}M${c - 12},${y(hHigh[i])}H${c + 12}M${c},${y(hQ1[i])}V${y(hLow[i])}M${c - 12},${y(hLow[i])}H${c + 12}`} fill="none" stroke="#3a3a3a" strokeWidth={1.1} />
            {hPoints[i].map((v, j) => {
              const jit = i === 2 ? (((j * 3) % 5) - 2) * 2.6 : (((j * 5) % 7) - 3) * 3.2;
              return <circle key={j} cx={c + jit} cy={y(v)} r={5} fill={fills[i]} fillOpacity={0.72} />;
            })}
            {hOutliers[i].map((v, j) => (
              <path key={j} d={`M${c - 4},${y(v)}H${c + 4}M${c},${y(v) - 4}V${y(v) + 4}`} stroke="#ff2a1a" strokeWidth={1.6} />
            ))}
            <text x={505} y={y(0) + 66 + i * 16.7} fontSize={14.5} fill={legendInk[i]}>{g}</text>
            <circle cx={682.3} cy={y(0) + 61.4 + i * 16.7} r={7} fill={legendFills[i]} />
          </g>
        );
      })}
      <path d={`M${xc(0) - 3},${y(0.287)}V${y(0.304)}H${xc(1)}V${y(0.287)}`} fill="none" stroke="#000" strokeWidth={2.6} />
      <text x={578.3} y={671.5} fontSize={13.5} textAnchor="middle" fill={INK}>N.S.</text>
      <path d={`M${(xc(0) + xc(1)) / 2 - 4},${y(0.358)}V${y(0.596)}H${xc(2)}V${y(0.582)}`} fill="none" stroke="#000" strokeWidth={2.6} />
      <text x={621} y={567.5} fontSize={11} textAnchor="middle" fill="#444">****</text>
    </g>
  );
}

function Caption() {
  const seg = (s: Seg, k: number) => {
    const st = s[1] ?? "";
    return (
      <tspan key={k} fontWeight={st.includes("b") ? "bold" : "normal"} fontStyle={st.includes("i") ? "italic" : "normal"} fill={st.includes("u") ? BLUE : "#000"}>
        {s[0]}
      </tspan>
    );
  };
  return (
    <g fontFamily={SERIF} fontSize={24}>
      {captionTitle.map((l, i) => (
        <text key={i} x={28} y={913 + i * 26} textLength={titleWidths[i]} lengthAdjust="spacingAndGlyphs" xmlSpace="preserve">{l.map(seg)}</text>
      ))}
      {captionBody.map((l, i) => (
        <text key={i} x={28} y={973 + i * 27.1} textLength={bodyWidths[i]} lengthAdjust="spacingAndGlyphs" xmlSpace="preserve">{l.map(seg)}</text>
      ))}
    </g>
  );
}

export default function App() {
  return (
    <div style={{ position: "absolute", left: 0, top: 0 }}>
      <svg width={770} height={1530} style={{ display: "block", background: "#fff" }}>
        <path d="M9.5,1530V5.5H770" fill="none" stroke="#444" strokeWidth={2.2} />

        <Label x={34} y={45} t="A" size={28} />
        <Label x={367} y={45} t="B" size={28} />
        <TempPanel values={tempSlow} x0={53} yBase={212} stimStart={28.1} stimDur={19.5} barColor={YELLOW} rate="0.17 °C/sec" sbx={45} />
        <TempPanel values={tempFast} x0={395} yBase={215} stimStart={28.6} stimDur={3} barColor={ORANGE} rate="1.7 °C/sec" sbx={384} />
        <VText x={47} y={116} t="Temp." size={14} />
        <g fontFamily={FONT} fontSize={14} fill={INK}>
          <rect x={257} y={90} width={189} height={69} fill="#fff" stroke="#8a8a8a" strokeWidth={1.3} />
          <rect x={262} y={94} width={48} height={8} fill={YELLOW} />
          <rect x={262} y={102} width={48} height={11} fill={SHADE} />
          <text x={317} y={110}>AMF 49.9kHz 19mT</text>
          <rect x={262} y={116} width={48} height={8} fill={ORANGE} />
          <rect x={262} y={124} width={48} height={9} fill={SHADE} />
          <text x={317} y={132}>AMF 49.9kHz 80mT</text>
          <line x1={263} x2={310} y1={146} y2={146} stroke="#000" strokeWidth={2.2} />
          <text x={317} y={152}>
            15nm Fe<tspan fontSize={8.5} dy={4}>2.35</tspan>
            <tspan dy={-4}>Co</tspan><tspan fontSize={8.5} dy={4}>0.65</tspan>
            <tspan dy={-4}>O</tspan><tspan fontSize={8.5} dy={4}>4</tspan>
          </text>
        </g>

        <Label x={34} y={284} t="C" />
        <Label x={272} y={285} t="D" />
        <Label x={481} y={287} t="E" />
        <StackPanel traces={slowTraces} offsets={slowOffsets} x0={68.3} x1={251.7} dur={122.3} yBase={490} pxRad={48}
          stims={[10, 71]} stimDur={20.7} barColor={YELLOW} barTop={262.3} barBottom={270} grayBottom={510}
          color={TRACE} shadow sbx={61.7} sby={525} sbSec={20} secLabel="20 Seconds" secY={543} />
        <VText x={47} y={390} t="Wing Angle θ" size={14} />
        <StackPanel traces={fastTraces} offsets={fastOffsets} x0={282.3} x1={465} dur={61} yBase={511.7} pxRad={50}
          stims={[10.3, 40.6]} stimDur={1.8} barColor={ORANGE} barTop={263.3} barBottom={270} grayBottom={520.7}
          color={TRACE} shadow sbx={275} sby={525} sbSec={10} secLabel="10 Seconds" secY={543} />
        <StackPanel traces={ctrlTraces} offsets={ctrlOffsets} x0={504} x1={711} dur={62.7} yBase={503.3} pxRad={48}
          stims={[10.4, 41.7]} stimDur={1.73} barColor={ORANGE} barTop={265} barBottom={273.3} grayBottom={517}
          color="#4a4a4a" width={1.3} sbx={500} sby={520.7} sbSec={10} secLabel="10 Seconds" secY={537} />

        <Label x={30} y={573} t="F" />
        <Label x={237} y={573} t="G" />
        <Label x={477} y={574} t="H" />
        <FPanel />
        <GPanel />
        <HPanel />

        <Caption />
      </svg>
    </div>
  );
}
